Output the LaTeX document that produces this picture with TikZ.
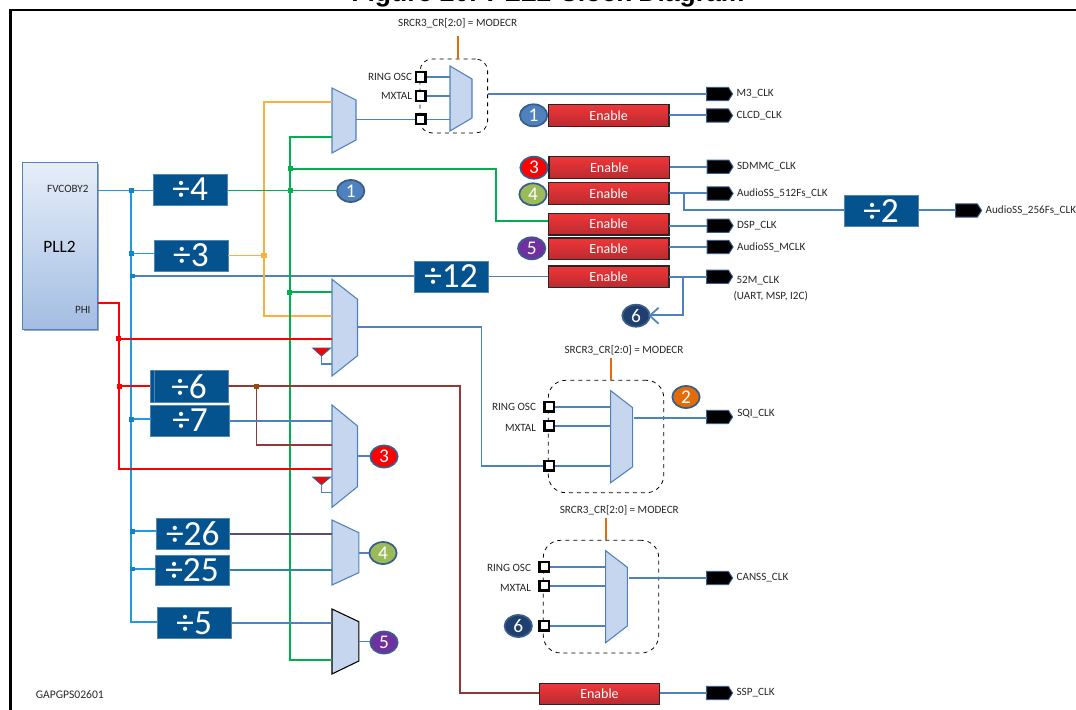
\documentclass[tikz,border=0pt]{standalone}
\usepackage{fontspec}
\setmainfont{Carlito}
\newfontfamily\titlefont{Liberation Sans}
\usetikzlibrary{fit,shapes.geometric,shapes.symbols}
\definecolor{wireblue}{HTML}{4F81BD}
\definecolor{busblue}{HTML}{1E9BDC}
\definecolor{busjn}{HTML}{0F84C8}
\definecolor{wiregreen}{HTML}{00B050}
\definecolor{wireorange}{HTML}{FAB040}
\definecolor{wirered}{HTML}{FF0000}
\definecolor{wirebrown}{HTML}{953735}
\definecolor{jnbrown}{HTML}{984807}
\definecolor{modeorange}{HTML}{E36C09}
\definecolor{divfill}{HTML}{04538F}
\definecolor{muxfill}{HTML}{C5D6EE}
\definecolor{circedge}{HTML}{385D8A}
\definecolor{enTop}{HTML}{F03639}
\definecolor{enBot}{HTML}{B92B2F}
\definecolor{pllTop}{HTML}{E6EEF9}
\definecolor{pllBot}{HTML}{A3BDE2}
\definecolor{num1}{HTML}{4F81BD}
\definecolor{num2}{HTML}{E36C09}
\definecolor{num3}{HTML}{FF0000}
\definecolor{num4}{HTML}{9BBB59}
\definecolor{num5}{HTML}{7030A0}
\definecolor{num6}{HTML}{1F3F6E}
\definecolor{wirepurple}{HTML}{5F497A}
\definecolor{wireteal}{HTML}{31859C}
\tikzset{
  wire/.style={line width=1.3pt,draw=wireblue,line join=miter},
  buswire/.style={wire,draw=busblue},
  greenwire/.style={wire,draw=wiregreen},
  orangewire/.style={wire,draw=wireorange},
  redwire/.style={wire,draw=wirered},
  brownwire/.style={wire,draw=wirebrown},
  modewire/.style={line width=1.3pt,draw=modeorange},
  jn/.style={rectangle,minimum size=3.6pt,inner sep=0pt,outer sep=0pt},
  boxfit/.style={inner sep=0pt,outer sep=0pt},
  divbox/.style={boxfit,fill=divfill,draw=divfill!70!white,line width=.4pt},
  divtext/.style={inner sep=0pt,text=white,font=\fontsize{26.5pt}{28pt}\selectfont},
  enbox/.style={boxfit,top color=enTop,bottom color=enBot,draw=black!85,line width=.8pt},
  entext/.style={inner sep=0pt,text=white,font=\fontsize{10.5pt}{12pt}\selectfont},
  mux/.style={fill=muxfill,draw=wireblue,line width=.8pt,line join=miter},
  muxblack/.style={fill=muxfill,draw=black,line width=.8pt,line join=miter},
  num/.style={ellipse,minimum width=20.5pt,minimum height=16.5pt,inner sep=0pt,outer sep=0pt,draw=circedge,line width=1.3pt,text=white,font=\fontsize{14.5pt}{16pt}\selectfont},
  tag/.style={shape=signal,signal to=east,signal pointer angle=115,minimum width=19.5pt,minimum height=10pt,inner sep=0pt,outer sep=0pt,fill=black,draw=circedge,line width=.7pt},
  lbl/.style={inner sep=0pt,outer sep=0pt,text=black!85,font=\fontsize{8.35pt}{9.5pt}\selectfont},
  port/.style={rectangle,minimum size=7.2pt,inner sep=0pt,outer sep=0pt,fill=white,draw=black,line width=1.8pt},
  dashbox/.style={boxfit,draw=black,dashed,line width=.6pt,rounded corners=9pt},
  trisel/.style={fill=red,draw=circedge,line width=.7pt,line join=miter}
}
% [style]{name}{xl}{xr}{y top-left}{y top-right}{y bottom-right}{y bottom-left}
\newcommand\muxn[8][mux]{%
  \node[boxfit,fit={(#3,#5)(#4,#8)}] (#2) {};
  \filldraw[#1] (#3,#5) -- (#4,#6) -- (#4,#7) -- (#3,#8) -- cycle;}
% {name}{xl}{xr}{yt}{yb}{text}
\newcommand\divn[6]{\node[divbox,fit={(#2,#4)(#3,#5)}] (#1) {};
  \node[divtext] (#1t) at (#1.center) {÷#6};}
\newcommand\enn[5]{\node[enbox,fit={(#2,#4)(#3,#5)}] (#1) {};
  \node[entext] (#1t) at (#1.center) {Enable};}
% {name}{x}{y}{label}  clock tag with its label
\newcommand\tagn[4]{\node[tag] (#1) at (#2,#3) {};
  \node[lbl,anchor=west] (#1l) at ([xshift=3pt]#1.east) {#4};}
\begin{document}
\begin{tikzpicture}[x=0.75pt,y=-0.75pt]
\useasboundingbox (0,0) rectangle (1076,710);
\clip (0,0) rectangle (1076,710);
\node[anchor=base,inner sep=0pt,font=\titlefont\bfseries\fontsize{19.9pt}{22pt}\selectfont] (title) at (548,1.5) {Figure 20. PLL2 Clock Diagram};
\coordinate (framea) at (10.3,712);
\coordinate (frameb) at (10.3,10);
\coordinate (framec) at (1078,10);
\draw[line width=2.2pt,line join=miter] (framea) -- (frameb) -- (framec);
% PLL
\fill[black!35] (23.5,164.5) rectangle (99.3,331);
\node[boxfit,fit={(22.4,162.7)(97.8,329)},top color=pllTop,bottom color=pllBot,draw=wireblue,line width=.7pt] (pll) {};
\node[lbl,anchor=east] (fvl) at (88.5,188.5) {FVCOBY2};
\node[lbl,anchor=east] (phil) at (90.5,309.5) {PHI};
\node[font=\fontsize{13pt}{15pt}\selectfont,inner sep=0pt] (plll) at (59.5,247) {PLL2};
% dividers
\divn{d4}{153}{227.5}{174}{205}{4}
\divn{d3}{154}{228}{240}{271}{3}
\divn{d12}{414}{488}{261}{292}{12}
\divn{d6}{150}{228.3}{370.7}{402}{6}
\draw[divfill!70!white,line width=.4pt] (154.6,370.7) -- (154.6,402);
\divn{d7}{150.5}{229.7}{405}{436.3}{7}
\divn{d26}{156}{229.7}{518}{549}{26}
\divn{d25}{155}{229}{555}{585.7}{25}
\divn{d5}{157}{231.4}{607.3}{638.7}{5}
\divn{d2}{844}{918}{195.7}{226.7}{2}
% enables
\enn{e1}{548.4}{669}{104.3}{126.7}
\draw[line width=.9pt,draw=black!50!red] (569,126.7) -- (651,126.7);
\enn{e3}{549}{669.7}{156.3}{178.3}
\enn{e4}{548.4}{669}{182.7}{204.3}
\enn{edsp}{548.4}{669}{213.3}{235}
\enn{e5}{548.4}{669}{238}{259.3}
\enn{e52}{548.4}{669}{266}{287.7}
\enn{essp}{539.3}{659.7}{683.3}{704.7}
% dashed groups
\node[dashbox,fit={(420,59)(487.6,133)}] (g1) {};
\node[dashbox,rounded corners=13pt,fit={(548.3,380.3)(663.7,492.7)}] (g2) {};
\node[dashbox,rounded corners=13pt,fit={(543.3,540.3)(658.7,653)}] (g3) {};
% muxes
\muxn{mt}{450}{472}{66}{79}{118}{131}
\muxn{ma}{332}{356}{88}{100}{140}{153}
\muxn{mb}{332}{357.5}{279.3}{299.3}{355.7}{376}
\muxn{mc}{332}{357.5}{405}{426}{486.7}{507.3}
\muxn{md}{332}{358.8}{520}{532.7}{572.7}{585}
\muxn[muxblack]{me}{332}{358.8}{609}{621.7}{661}{674}
\muxn{mq}{610.7}{632.7}{390.7}{407.7}{466.7}{482.7}
\muxn{mn}{605.7}{627.3}{550.7}{567.3}{626}{642.7}
% numbered circles
\node[num,fill=num1] (c1a) at (350.7,191) {1};
\node[num,fill=num1] (c1b) at (533.6,115.3) {1};
\node[num,fill=num2] (c2) at (686,397) {2};
\node[num,fill=num3] (c3a) at (534,167.7) {3};
\node[num,fill=num3] (c3b) at (384,456.5) {3};
\node[num,fill=num4] (c4a) at (533,194.3) {4};
\node[num,fill=num4] (c4b) at (383,553) {4};
\node[num,fill=num5] (c5a) at (531.7,248.3) {5};
\node[num,fill=num5] (c5b) at (384,642.5) {5};
\node[num,fill=num6] (c6a) at (636,315.7) {6};
\node[num,fill=num6] (c6b) at (518.3,626) {6};
% clock tags
\tagn{tm3}{717.5}{94}{M3\_CLK}
\tagn{tcl}{717.5}{115.5}{CLCD\_CLK}
\tagn{tsd}{718}{166.8}{SDMMC\_CLK}
\tagn{t512}{718}{193.5}{AudioSS\_512Fs\_CLK}
\tagn{tdsp}{718}{225.7}{DSP\_CLK}
\tagn{tmc}{718}{247}{AudioSS\_MCLK}
\node[tag] (t52) at (717.5,276.7) {};
\node[lbl,anchor=west] (t52l) at (736.6,280.5) {52M\_CLK};
\node[lbl,anchor=west] (t52m) at (733.6,295.7) {(UART, MSP, I2C)};
\tagn{t256}{966.5}{210.5}{AudioSS\_256Fs\_CLK}
\node[tag] (tsqi) at (717.5,417) {};
\node[lbl,anchor=west] (tsqil) at (737.3,413.7) {SQI\_CLK};
\tagn{tcan}{717.5}{578}{CANSS\_CLK}
\tagn{tssp}{717.5}{693}{SSP\_CLK}
% mode labels
\node[lbl] (ml1) at (457.6,23.5) {SRCR3\_CR[2:0] = MODECR};
\node[lbl] (ml2) at (624,350.3) {SRCR3\_CR[2:0] = MODECR};
\node[lbl] (ml3) at (619.3,510.3) {SRCR3\_CR[2:0] = MODECR};
\coordinate (mo1) at (458,36);
\coordinate (mo2) at (611,358);
\coordinate (mo3) at (606,518.3);
\draw[modewire] (mo1) -- (mo1 |- g1.north);
\draw[modewire] (mo2) -- (mo2 |- g2.north);
\draw[modewire] (mo3) -- (mo3 |- g3.north);
\node[lbl,anchor=west,font=\fontsize{8.7pt}{10pt}\selectfont] (gap) at (35.8,695) {GAPGPS02601};
% blue bus
\coordinate (bustop) at (131.2,190.5);
\coordinate (busbot) at (131.2,621.7);
\draw[buswire] (pll.east |- bustop) -- (d4.west |- bustop);
\draw[buswire] (bustop) -- (busbot) -- (d5.west |- busbot);
\draw[buswire] (131.2,253.5) -- (d3.west |- 0,253.5);
\draw[wire] (131.2,276) -- (d12.west |- 0,276);
\draw[buswire] (131.2,419.3) -- (d7.west |- 0,419.3);
\draw[buswire] (131.2,531.3) -- (d26.west |- 0,531.3);
\draw[buswire] (131.2,569) -- (d25.west |- 0,569);
\foreach \jy/\jx in {190.5/131.2,253.5/131.2,276/132.2,419.3/131.2,531.3/132.2,569/132.2}
  \node[jn,fill=busjn] at (\jx,\jy) {};
% orange
\coordinate (orj) at (264,255.5);
\draw[orangewire] (d3.east |- orj) -- (orj);
\draw[orangewire] (ma.west |- 0,102) -- (264,102) -- (264,315.7) -- (mb.west |- 0,315.7);
\node[jn,fill=wireorange,minimum size=4pt] (orn) at (orj) {};
% green
\coordinate (gtop) at (290.3,137);
\coordinate (gbot) at (290.3,660);
\draw[greenwire] (d4.east |- 0,190.5) -- (c1a.west |- 0,190.5);
\draw[greenwire] (ma.west |- gtop) -- (gtop) -- (gbot) -- (me.west |- gbot);
\draw[greenwire] (290.3,168.7) -- (496,168.7) -- (496,221) -- (edsp.west |- 0,221);
\draw[greenwire] (290.3,292.3) -- (mb.west |- 0,292.3);
\node[jn,fill=wiregreen,minimum size=4pt] (gj1) at (290.3,168.7) {};
\node[jn,fill=wiregreen,minimum size=4pt] (gj2) at (290.3,190.5) {};
\node[jn,fill=wiregreen,minimum size=4pt] (gj3) at (289.5,292.3) {};
% red
\coordinate (rt) at (119,303.3);
\coordinate (rb) at (119,469);
\draw[redwire] (pll.east |- rt) -- (rt) -- (rb) -- (mc.west |- rb);
\draw[redwire] (119,338.7) -- (mb.west |- 0,338.7);
\draw[redwire] (119,386.3) -- (d6.west |- 0,386.3);
\node[jn,fill=wirered,minimum size=4pt] (rj1) at (118.8,338.7) {};
\node[jn,fill=wirered,minimum size=4pt] (rj2) at (119.5,386.3) {};
% brown
\coordinate (bj) at (256.5,386.3);
\draw[brownwire] (d6.east |- bj) -- (460,386.3) -- (460,692.7) -- (essp.west |- 0,692.7);
\draw[brownwire] (bj) -- (256.5,444.7) -- (mc.west |- 0,444.7);
\node[jn,fill=jnbrown,minimum size=4pt] (bjn) at (bj) {};
% divider to mux wires
\draw[wire] (d7.east |- 0,421) -- (mc.west |- 0,421);
\draw[wire,draw=wirepurple] (d26.east |- 0,534.3) -- (md.west |- 0,534.3);
\draw[wire,draw=wireteal] (d25.east |- 0,570) -- (md.west |- 0,570);
\draw[wire] (d5.east |- 0,623) -- (me.west |- 0,623);
% mux outputs
\draw[wire] (mc.east |- 0,456.3) -- (c3b.west |- 0,456.3);
\draw[wire] (md.east |- 0,552.7) -- (c4b.west |- 0,552.7);
\draw[wire] (me.east |- 0,641.5) -- (c5b.west |- 0,641.5);
\draw[wire] (ma.east |- 0,119.5) -- (420.5,119.5);
\draw[wire] (g1.east |- 0,94) -- (tm3.west |- 0,94);
\draw[wire] (mb.east |- 0,327.3) -- (481.4,327.3) -- (481.4,465.7) -- (549.3,465.7);
\draw[wire] (634,418) -- (tsqi.west |- 0,418);
\draw[wire] (629,578) -- (tcan.west |- 0,578);
% right column
\draw[wire] (e1.east |- 0,115) -- (tcl.west |- 0,115);
\draw[wire] (e3.east |- 0,166.7) -- (tsd.west |- 0,166.7);
\draw[wire] (e4.east |- 0,193) -- (t512.west |- 0,193);
\draw[wire] (684,193) -- (684,210.3) -- (d2.west |- 0,210.3);
\draw[wire] (d2.east |- 0,210.3) -- (t256.west |- 0,210.3);
\draw[wire] (edsp.east |- 0,225.7) -- (tdsp.west |- 0,225.7);
\draw[wire] (e5.east |- 0,246.7) -- (tmc.west |- 0,246.7);
\draw[wire] (d12.east |- 0,276.5) -- (e52.west |- 0,276.5);
\draw[wire] (e52.east |- 0,276.7) -- (t52.west |- 0,276.7);
\draw[wire] (683,276.7) -- (683,315) -- (c6a.east |- 0,315);
\coordinate (c6tip) at (c6a.east);
\draw[wire,line join=miter] ([shift={(9,-8)}]c6tip) -- (c6tip) -- ([shift={(9,8)}]c6tip);
\draw[wire] (essp.east |- 0,692.7) -- (tssp.west |- 0,692.7);
% selector triangles
\coordinate (tb) at (321.5,356);
\coordinate (tc) at (321.5,484.7);
\draw[wire,line width=.8pt] (tb) -- (321.5,364) -- (mb.west |- 0,364);
\draw[wire,line width=.8pt] (tc) -- (321.5,492.7) -- (mc.west |- 0,492.7);
\filldraw[trisel] (312.7,348) -- (330.6,348) -- (tb) -- cycle;
\filldraw[trisel] (312.7,477) -- (330.6,477) -- (tc) -- cycle;
% mux inputs with ports
\foreach \pn/\px/\py/\mm in {pa/420.5/77/mt,pb/420.5/96/mt,pc/420.5/119.5/mt,pd/549.3/406.7/mq,pe/549.3/425.7/mq,pf/549.3/465.7/mq,pg/544.3/566.7/mn,ph/544.3/585.7/mn,pi/544.3/625.7/mn}{
  \draw[wire] (\px,\py) -- (\mm.west |- 0,\py);
  \node[port] (\pn) at (\px,\py) {};
}
\node[lbl,anchor=east] (r1) at (412,77) {RING OSC};
\node[lbl,anchor=east] (x1) at (412,95.5) {MXTAL};
\node[lbl,anchor=east] (r2) at (536,407) {RING OSC};
\node[lbl,anchor=east] (x2) at (536,428) {MXTAL};
\node[lbl,anchor=east] (r3) at (531,567.7) {RING OSC};
\node[lbl,anchor=east] (x3) at (531,588.3) {MXTAL};
\end{tikzpicture}
\end{document}
